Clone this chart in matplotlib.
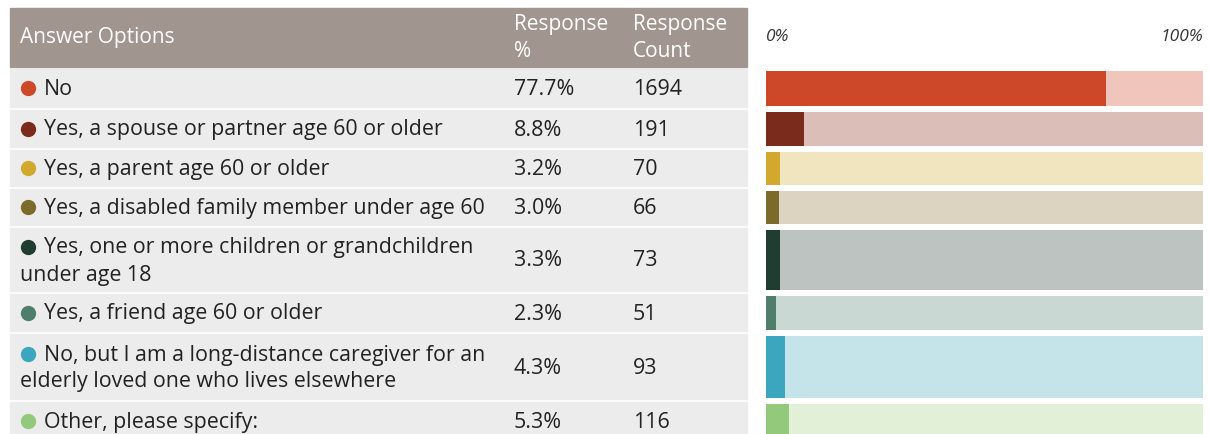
import matplotlib.pyplot as plt
from matplotlib.patches import Rectangle

plt.rcParams['font.family'] = ['Open Sans', 'DejaVu Sans']

options = [
    "No",
    "Yes, a spouse or partner age 60 or older",
    "Yes, a parent age 60 or older",
    "Yes, a disabled family member under age 60",
    "Yes, one or more children or grandchildren\nunder age 18",
    "Yes, a friend age 60 or older",
    "No, but I am a long-distance caregiver for an\nelderly loved one who lives elsewhere",
    "Other, please specify:",
]
pct = [77.7, 8.8, 3.2, 3.0, 3.3, 2.3, 4.3, 5.3]
counts = [1694, 191, 70, 66, 73, 51, 93, 116]

dark = ["#cc4829", "#7b2b1b", "#d3a82e", "#7c6a2a", "#1f3e31", "#4f7e6b", "#3ba6bd", "#93c97b"]
light = ["#efc5bc", "#dbbeb8", "#f1e5bf", "#dcd4c0", "#bcc3c1", "#cad8d3", "#c5e4ea", "#e1f0d7"]

# row extents in pixels (top, bottom)
rows = [(69, 107), (110, 147), (150, 186), (189, 225), (228, 291), (294, 331), (334, 399), (402, 440)]

W, H = 1210, 434
FS = 15.4
fig = plt.figure(figsize=(W / 100, H / 100), dpi=100)
ax = fig.add_axes([0, 0, 1, 1])
ax.set_xlim(0, W)
ax.set_ylim(H, 0)
ax.axis("off")

# header
ax.add_patch(Rectangle((10, 8), 737, 59, color="#a0958f"))
ax.text(20, 38, "Answer Options", color="white", fontsize=15, va="center")
ax.text(514, 38, "Response\n%", color="white", fontsize=15, va="center", linespacing=1.35)
ax.text(633, 38, "Response\nCount", color="white", fontsize=15, va="center", linespacing=1.35)
ax.text(766, 37, "0%", fontsize=12.5, style="italic", va="center", color="#333333")
ax.text(1203, 37, "100%", fontsize=12.5, style="italic", va="center", ha="right", color="#333333")

for i, (top, bot) in enumerate(rows):
    ax.add_patch(Rectangle((10, top), 737, bot - top, color="#ececec"))
    mid = (top + bot) / 2
    ty = mid + 1.5
    lines = options[i].split("\n")
    if len(lines) == 1:
        ax.plot(28, mid, "o", color=dark[i], ms=10)
        ax.text(44, ty, lines[0], fontsize=FS, va="center", color="#222222")
    else:
        y1 = mid - 13
        ax.plot(28, y1, "o", color=dark[i], ms=10)
        ax.text(44, y1 + 1.5, lines[0], fontsize=FS, va="center", color="#222222")
        ax.text(20, mid + 15.5, lines[1], fontsize=FS, va="center", color="#222222")
    ax.text(514, ty, f"{pct[i]}%", fontsize=FS, va="center", color="#222222")
    ax.text(633, ty, str(counts[i]), fontsize=FS, va="center", color="#222222")

# bars
bx = fig.add_axes([766 / W, 0, (1203 - 766) / W, 1])
bx.set_xlim(0, 100)
bx.set_ylim(H, 0)
bx.axis("off")
centers = [(t + b) / 2 for t, b in rows]
heights = [(b - t) - 3 for t, b in rows]
bx.barh(centers, [100] * len(pct), height=heights, color=light)
bx.barh(centers, pct, height=heights, color=dark)

fig.savefig("out.png", dpi=100)
